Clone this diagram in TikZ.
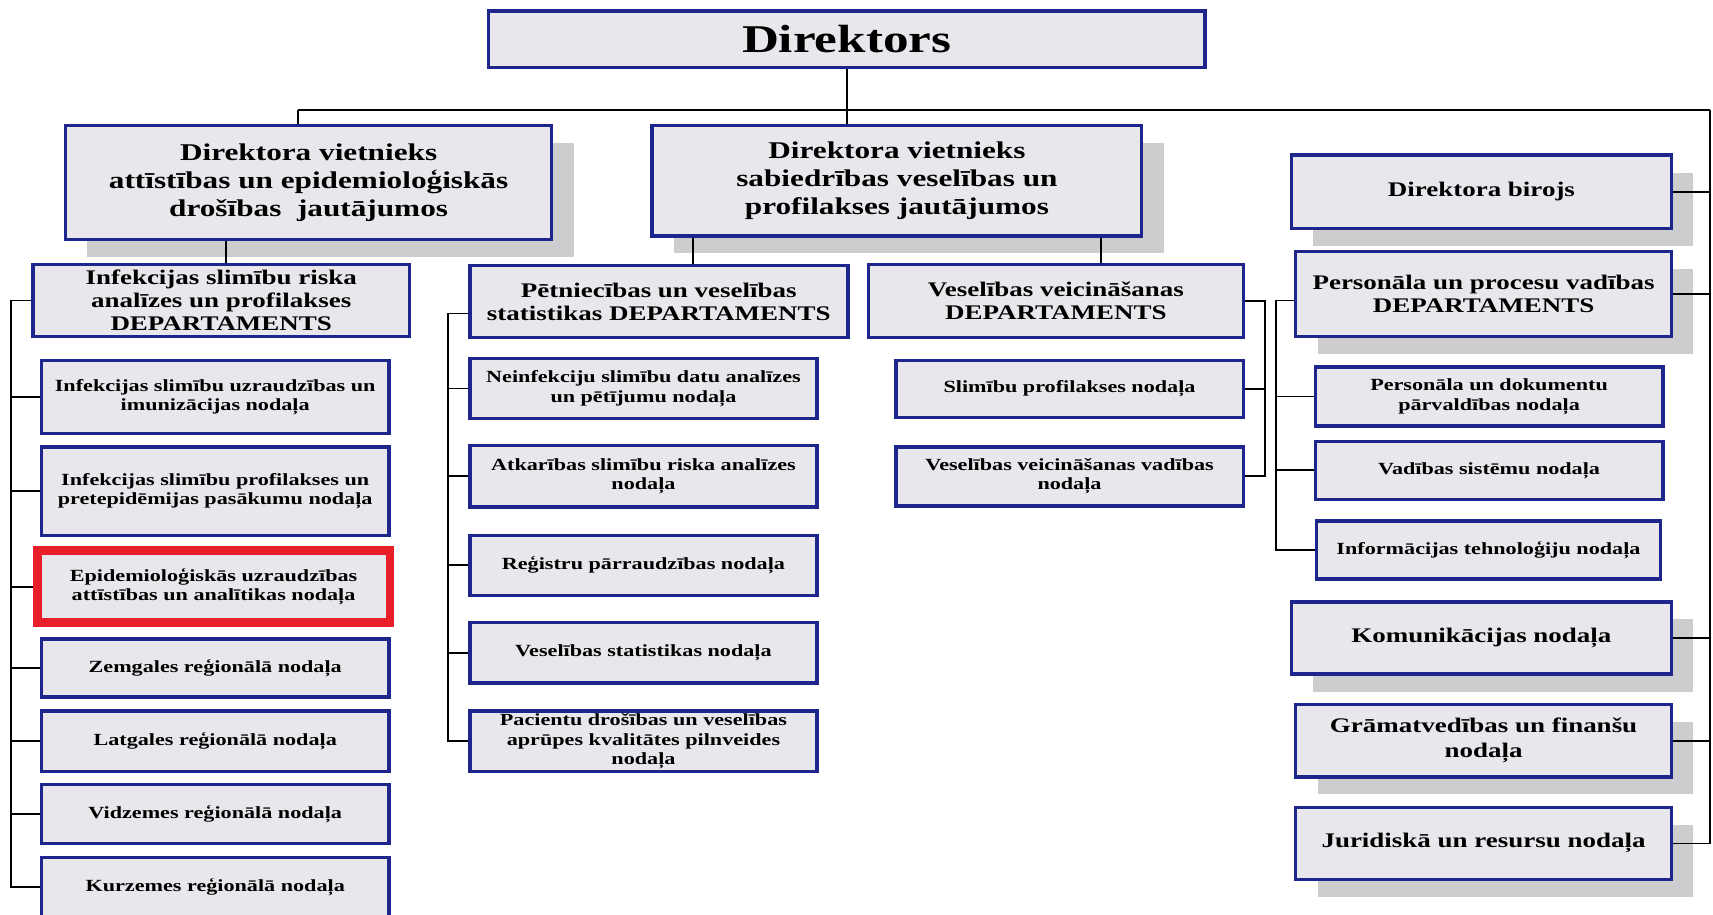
\documentclass[tikz,border=0pt]{standalone}
\usepackage{fontspec}
\setmainfont[FakeStretch=1.3]{Liberation Serif}
\usepackage{tikz}
\usetikzlibrary{calc}
\usetikzlibrary{shadows}
\usepackage{xcolor}
\definecolor{boxfill}{RGB}{232,232,236}
\definecolor{boxline}{RGB}{30,37,140}
\definecolor{markred}{RGB}{232,30,40}
\definecolor{shadowgray}{RGB}{205,205,208}

\begin{document}
\begin{tikzpicture}[x=0.5pt,y=-0.5pt,
  main node/.style={rectangle,fill=boxfill,draw=boxline,line width=1.6pt,align=center,inner sep=1pt},
  shadow node/.style={main node,drop shadow={shadow xshift=10pt,shadow yshift=-8pt,fill=shadowgray,opacity=1}},
  top node/.style={font=\fontsize{18}{20}\selectfont\bfseries},
  vice node/.style={font=\fontsize{11}{12.75}\selectfont\bfseries},
  dept node/.style={font=\fontsize{9.5}{10.5}\selectfont\bfseries},
  office node/.style={font=\fontsize{9.5}{11.5}\selectfont\bfseries},
  unit node/.style={font=\fontsize{7.8}{9}\selectfont\bfseries},
  link/.style={draw=black,line width=0.8pt}]

  \useasboundingbox (0,0) rectangle (1568,837);
  \fill[white] (0,0) rectangle (1568,837);

  % director and deputies
  \node[main node,top node,minimum width=328pt,minimum height=26pt] (D) at (775,36) {Direktors};
  \node[shadow node,vice node,minimum width=222.5pt,minimum height=52pt] (VL) at (282.5,167) {Direktora vietnieks\\attīstības un epidemioloģiskās\\drošības\ \ jautājumos};
  \node[shadow node,vice node,minimum width=224pt,minimum height=50.5pt] (VM) at (821,165.5) {Direktora vietnieks\\sabiedrības veselības un\\profilakses jautājumos};

  % right column
  \node[shadow node,dept node,minimum width=174pt,minimum height=33.5pt] (DB) at (1356,175.5) {Direktora birojs};
  \node[shadow node,dept node,minimum width=172pt,minimum height=39pt] (PD) at (1358,269) {Personāla un procesu vadības\\DEPARTAMENTS};
  \node[main node,unit node,minimum width=159pt,minimum height=27pt] (PDa) at (1363,363) {Personāla un dokumentu\\pārvaldības nodaļa};
  \node[main node,unit node,minimum width=159pt,minimum height=26.5pt] (PDb) at (1363,430.5) {Vadības sistēmu nodaļa};
  \node[main node,unit node,minimum width=157.5pt,minimum height=26.5pt] (PDc) at (1362.5,503.5) {Informācijas tehnoloģiju nodaļa};
  \node[shadow node,office node,minimum width=174pt,minimum height=33pt] (KOM) at (1356,584) {Komunikācijas nodaļa};
  \node[shadow node,office node,minimum width=172pt,minimum height=33pt] (GRA) at (1358,678) {Grāmatvedības un finanšu\\nodaļa};
  \node[shadow node,office node,minimum width=172pt,minimum height=33pt] (JUR) at (1358,772) {Juridiskā un resursu nodaļa};

  % left department
  \node[main node,dept node,minimum width=172.5pt,minimum height=33pt] (ID) at (202.5,275) {Infekcijas slimību riska\\analīzes un profilakses\\DEPARTAMENTS};
  \node[main node,unit node,minimum width=159pt,minimum height=33.5pt] (I1) at (197,363.5) {Infekcijas slimību uzraudzības un\\imunizācijas nodaļa};
  \node[main node,unit node,minimum width=159pt,minimum height=40.5pt] (I2) at (197,449.5) {Infekcijas slimību profilakses un\\pretepidēmijas pasākumu nodaļa};
  \node[main node,unit node,draw=markred,line width=4pt,minimum width=161.5pt,minimum height=33pt] (I3) at (195.5,537) {Epidemioloģiskās uzraudzības\\attīstības un analītikas nodaļa};
  \node[main node,unit node,minimum width=159pt,minimum height=26.5pt] (I4) at (197,611.5) {Zemgales reģionālā nodaļa};
  \node[main node,unit node,minimum width=159pt,minimum height=27.5pt] (I5) at (197,678.5) {Latgales reģionālā nodaļa};
  \node[main node,unit node,minimum width=159pt,minimum height=27pt] (I6) at (197,745) {Vidzemes reģionālā nodaļa};
  \node[main node,unit node,minimum width=159pt,minimum height=27pt] (I7) at (197,812) {Kurzemes reģionālā nodaļa};

  % middle departments
  \node[main node,dept node,minimum width=173pt,minimum height=33pt] (PS) at (603,276) {Pētniecības un veselības\\statistikas DEPARTAMENTS};
  \node[main node,unit node,minimum width=159pt,minimum height=27.5pt] (P1) at (589,355.5) {Neinfekciju slimību datu analīzes\\un pētījumu nodaļa};
  \node[main node,unit node,minimum width=159pt,minimum height=28pt] (P2) at (589,436) {Atkarības slimību riska analīzes\\nodaļa};
  \node[main node,unit node,minimum width=159pt,minimum height=27.5pt] (P3) at (589,517.5) {Reģistru pārraudzības nodaļa};
  \node[main node,unit node,minimum width=159pt,minimum height=27.5pt] (P4) at (589,597.5) {Veselības statistikas nodaļa};
  \node[main node,unit node,inner sep=0pt,minimum width=159pt,minimum height=27.5pt] (P5) at (589,678.5) {Pacientu drošības un veselības\\aprūpes kvalitātes pilnveides\\nodaļa};
  \node[main node,dept node,minimum width=171.5pt,minimum height=33.5pt] (VV) at (966.5,275.5) {Veselības veicināšanas\\DEPARTAMENTS};
  \node[main node,unit node,minimum width=159pt,minimum height=26pt] (V1) at (979,356) {Slimību profilakses nodaļa};
  \node[main node,unit node,minimum width=159pt,minimum height=27pt] (V2) at (979,436) {Veselības veicināšanas vadības\\nodaļa};

  % bus points
  \coordinate (busL) at (273,101);
  \coordinate (busR) at (1565,101);
  \coordinate (lbus) at (10,275);
  \coordinate (pbus) at (410,287);
  \coordinate (vbus) at (1158,276);
  \coordinate (hbus) at (1168,275);
  \coordinate (vlB) at (207,219);
  \coordinate (vmL) at (634,216);
  \coordinate (vmR) at (1008,216);

  \draw[link] (D.south) -- (VM.north -| D.south);
  \draw[link] (busL) -- (busR);
  \draw[link] (busL) -- (busL |- VL.north);
  \draw[link] (busR) |- (JUR.east);
  \foreach \n in {DB,PD,KOM,GRA}
    \draw[link] (\n.east) -- (\n.east -| busR);

  \draw[link] (VL.south -| vlB) -- (ID.north -| vlB);
  \draw[link] (ID.west) -- (lbus) |- (I7.west);
  \foreach \n in {I1,I2,I3,I4,I5,I6}
    \draw[link] (\n.west) -- (\n.west -| lbus);

  \draw[link] (VM.south -| vmL) -- (PS.north -| vmL);
  \draw[link] (VM.south -| vmR) -- (VV.north -| vmR);
  \draw[link] (PS.west |- pbus) -- (pbus) |- (P5.west);
  \foreach \n in {P1,P2,P3,P4}
    \draw[link] (\n.west) -- (\n.west -| pbus);
  \draw[link] (VV.east) -- (VV.east -| vbus) |- (V2.east);
  \draw[link] (V1.east) -- (V1.east -| vbus);
  \draw[link] (PD.west |- hbus) -- (hbus) |- (PDc.west);
  \foreach \n in {PDa,PDb}
    \draw[link] (\n.west) -- (\n.west -| hbus);
\end{tikzpicture}
\end{document}
